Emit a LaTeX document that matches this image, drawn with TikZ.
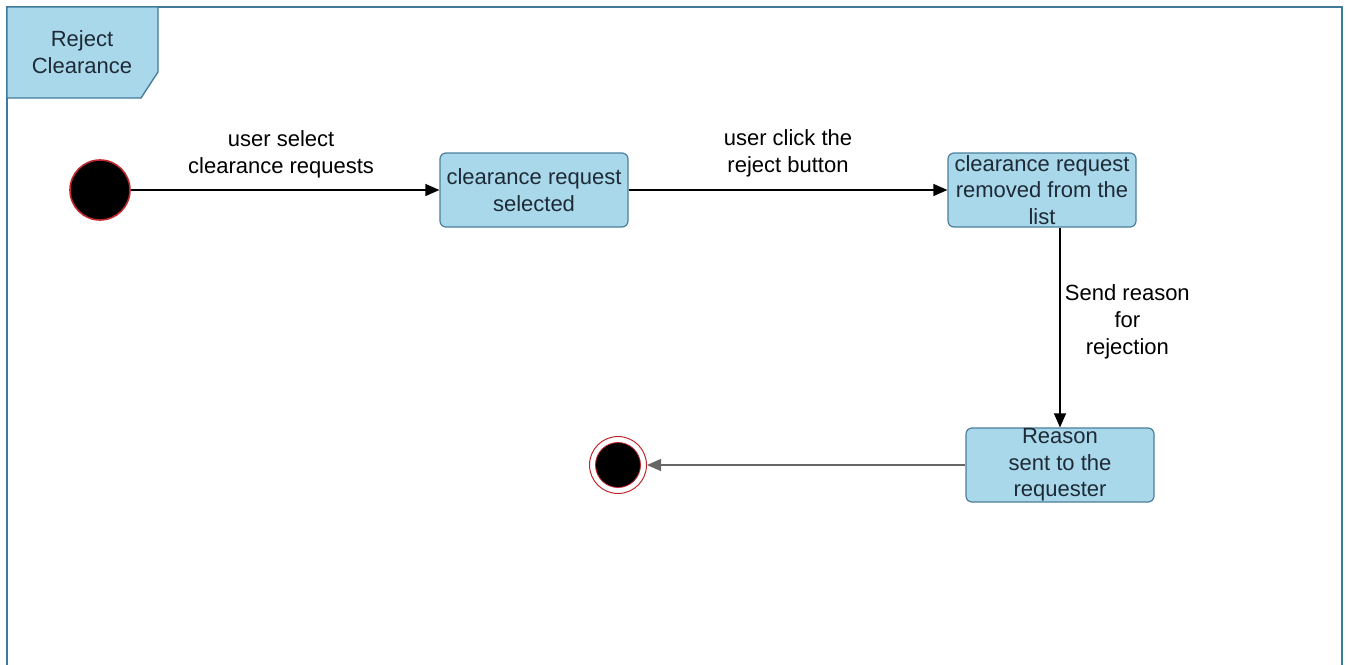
\documentclass[tikz,border=0pt]{standalone}
\usepackage{fontspec}
\setmainfont{Liberation Sans}
\usetikzlibrary{arrows.meta}
\definecolor{boxfill}{HTML}{A9D8EB}
\definecolor{boxline}{HTML}{4A7E9C}
\definecolor{frameline}{HTML}{3F7A99}
\definecolor{txt}{HTML}{1E2A36}
\definecolor{ringred}{HTML}{C0282E}
\tikzset{
  x=1pt, y=-1pt,
  state/.style={draw=boxline, line width=1.2pt, fill=boxfill, rounded corners=6pt,
    minimum width=188pt, minimum height=74pt, inner sep=0pt, align=center,
    text=txt, font=\fontsize{22}{26.5}\selectfont},
  lbl/.style={align=center, text=black, font=\fontsize{22}{27}\selectfont},
  flow/.style={line width=1.3pt, -{Triangle[length=14pt,width=12pt]}},
}
\begin{document}
\begin{tikzpicture}
\useasboundingbox (0,0) rectangle (1348,664);
% frame and its name tab
\draw[frameline, line width=1.3pt] (7,672) -- (7,7) -- (1342,7) -- (1342,672);
\draw[frameline, line width=1.3pt, fill=boxfill] (7,7) -- (158,7) -- (158,72) -- (141,98) -- (7,98) -- cycle;
\node[lbl, text=txt] (title) at (82,52) {Reject\\Clearance};
% states
\node[circle, fill=black, draw=ringred, line width=1.6pt, minimum size=60pt, inner sep=0pt] (init) at (100,190) {};
\node[state] (s1) at (534,190) {clearance request\\selected};
\node[state] (s2) at (1042,190) {clearance request\\removed from the\\list};
\node[state] (s3) at (1060,465) {Reason\\sent to the\\requester};
\node[circle, draw=ringred, line width=1pt, fill=white, minimum size=57pt, inner sep=0pt] (fin) at (618,465) {};
\node[circle, fill=black, draw=ringred, line width=0.8pt, minimum size=45pt, inner sep=0pt] (finin) at (fin.center) {};
% transitions
\draw[flow] (init) -- (s1) node[lbl, midway, above=8pt, xshift=-4pt] {user select\\clearance requests};
\draw[flow] (s1) -- (s2) node[lbl, midway, above=9pt] {user click the\\reject button};
\draw[flow] (s2.south -| s3.north) -- (s3.north) node[lbl, pos=0.47, right=1pt] {Send reason\\for\\rejection};
\draw[flow, draw=gray!80!black] (s3) -- (fin);
\end{tikzpicture}
\end{document}
